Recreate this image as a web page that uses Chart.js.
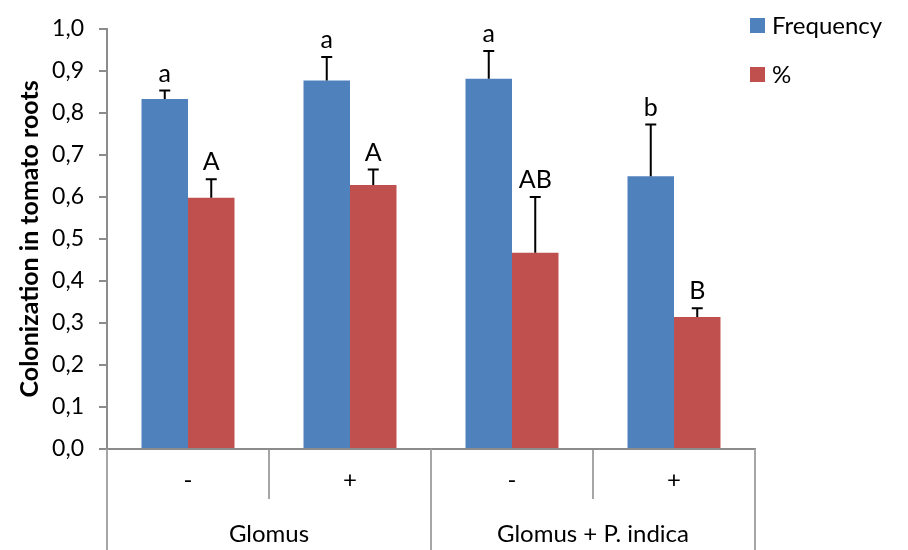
<!DOCTYPE html>
<html>
<head>
<meta charset="utf-8">
<script src="https://cdn.jsdelivr.net/npm/chart.js@4.4.0/dist/chart.umd.min.js"></script>
<style>
  html, body { margin: 0; padding: 0; background: #fff; }
  #wrap { width: 908px; height: 550px; }
</style>
</head>
<body>
<div id="wrap"><canvas id="chart"></canvas></div>
<script>
// data
const categories = ['-', '+', '-', '+'];
const groups = ['Glomus', 'Glomus + P. indica'];
const groupSize = 2;

const frequency = [0.833, 0.877, 0.881, 0.649];
const frequencyErr = [0.020, 0.056, 0.066, 0.123];
const frequencyLetters = ['a', 'a', 'a', 'b'];

const percent = [0.598, 0.628, 0.467, 0.314];
const percentErr = [0.044, 0.037, 0.133, 0.021];
const percentLetters = ['A', 'A', 'AB', 'B'];

const FONT = 'Lato, "Open Sans", sans-serif';
const axisGrey = '#8c8c8c';
const sepGrey = '#a6a6a6';

// error bars (upper only) + significance letters
const errorBars = {
  id: 'errorBars',
  afterDatasetsDraw(chart) {
    const ctx = chart.ctx;
    const y = chart.scales.y;
    ctx.save();
    chart.data.datasets.forEach((ds, i) => {
      const meta = chart.getDatasetMeta(i);
      meta.data.forEach((bar, j) => {
        const top = y.getPixelForValue(ds.data[j] + ds.errors[j]);
        const base = y.getPixelForValue(ds.data[j]);
        ctx.strokeStyle = '#000';
        ctx.lineWidth = 2;
        ctx.beginPath();
        ctx.moveTo(bar.x, base);
        ctx.lineTo(bar.x, top);
        ctx.moveTo(bar.x - 5.5, top);
        ctx.lineTo(bar.x + 5.5, top);
        ctx.stroke();

        ctx.fillStyle = '#000';
        ctx.font = '25px ' + FONT;
        ctx.textAlign = 'center';
        ctx.textBaseline = 'alphabetic';
        ctx.fillText(ds.letters[j], bar.x, top - 9);
      });
    });
    ctx.restore();
  }
};

// second level of the category axis
const groupAxis = {
  id: 'groupAxis',
  afterDraw(chart) {
    const ctx = chart.ctx;
    const x = chart.scales.x;
    const half = (x.getPixelForValue(1) - x.getPixelForValue(0)) / 2;
    const y0 = chart.chartArea.bottom;
    ctx.save();
    ctx.strokeStyle = sepGrey;
    ctx.lineWidth = 2;
    ctx.fillStyle = '#000';
    ctx.font = '24px ' + FONT;
    ctx.textAlign = 'center';
    ctx.textBaseline = 'middle';
    groups.forEach((g, k) => {
      const left = x.getPixelForValue(k * groupSize) - half;
      const right = x.getPixelForValue(k * groupSize + groupSize - 1) + half;
      ctx.beginPath();
      ctx.moveTo(left, y0);
      ctx.lineTo(left, chart.height);
      ctx.moveTo(right, y0);
      ctx.lineTo(right, chart.height);
      ctx.stroke();
      ctx.fillText(g, (left + right) / 2, 534);
    });
    ctx.restore();
  }
};

// legend drawn on the right, from the dataset styles
const sideLegend = {
  id: 'sideLegend',
  afterDraw(chart) {
    const ctx = chart.ctx;
    ctx.save();
    ctx.font = '24px ' + FONT;
    ctx.textBaseline = 'middle';
    ctx.textAlign = 'left';
    chart.data.datasets.forEach((ds, i) => {
      const top = 18 + i * 49;
      ctx.fillStyle = ds.backgroundColor;
      ctx.fillRect(750, top, 15, 15);
      ctx.fillStyle = '#000';
      ctx.fillText(ds.label, 772, top + 8);
    });
    ctx.restore();
  }
};

new Chart(document.getElementById('chart'), {
  type: 'bar',
  data: {
    labels: categories,
    datasets: [
      {
        label: 'Frequency',
        data: frequency,
        errors: frequencyErr,
        letters: frequencyLetters,
        backgroundColor: '#4f81bd',
        categoryPercentage: 0.574,
        barPercentage: 1.0
      },
      {
        label: '%',
        data: percent,
        errors: percentErr,
        letters: percentLetters,
        backgroundColor: '#c0504d',
        categoryPercentage: 0.574,
        barPercentage: 1.0
      }
    ]
  },
  options: {
    responsive: true,
    maintainAspectRatio: false,
    animation: false,
    layout: { padding: { top: 19, right: 153, bottom: 0, left: 0 } },
    plugins: {
      legend: { display: false },
      tooltip: { enabled: false }
    },
    scales: {
      x: {
        grid: {
          display: true,
          drawOnChartArea: false,
          offset: true,
          tickLength: 50,
          color: sepGrey,
          lineWidth: 2
        },
        border: { display: true, color: axisGrey, width: 2 },
        ticks: {
          color: '#000',
          font: { family: FONT, size: 24 },
          padding: -33,
          maxRotation: 0
        },
        afterFit(s) { s.height = 101; }
      },
      y: {
        min: 0,
        max: 1,
        grid: {
          display: true,
          drawOnChartArea: false,
          tickLength: 8,
          color: axisGrey,
          lineWidth: 2
        },
        border: { display: true, color: axisGrey, width: 2 },
        ticks: {
          stepSize: 0.1,
          color: '#000',
          font: { family: FONT, size: 23 },
          padding: 15,
          callback: (v) => Number(v).toFixed(1).replace('.', ',')
        },
        title: {
          display: true,
          text: 'Colonization in tomato roots',
          color: '#000',
          font: { family: FONT, size: 25, weight: 'bold' },
          padding: { top: 15, bottom: 0 }
        },
        afterFit(s) { s.width = 107; }
      }
    }
  },
  plugins: [errorBars, groupAxis, sideLegend]
});
</script>
</body>
</html>
